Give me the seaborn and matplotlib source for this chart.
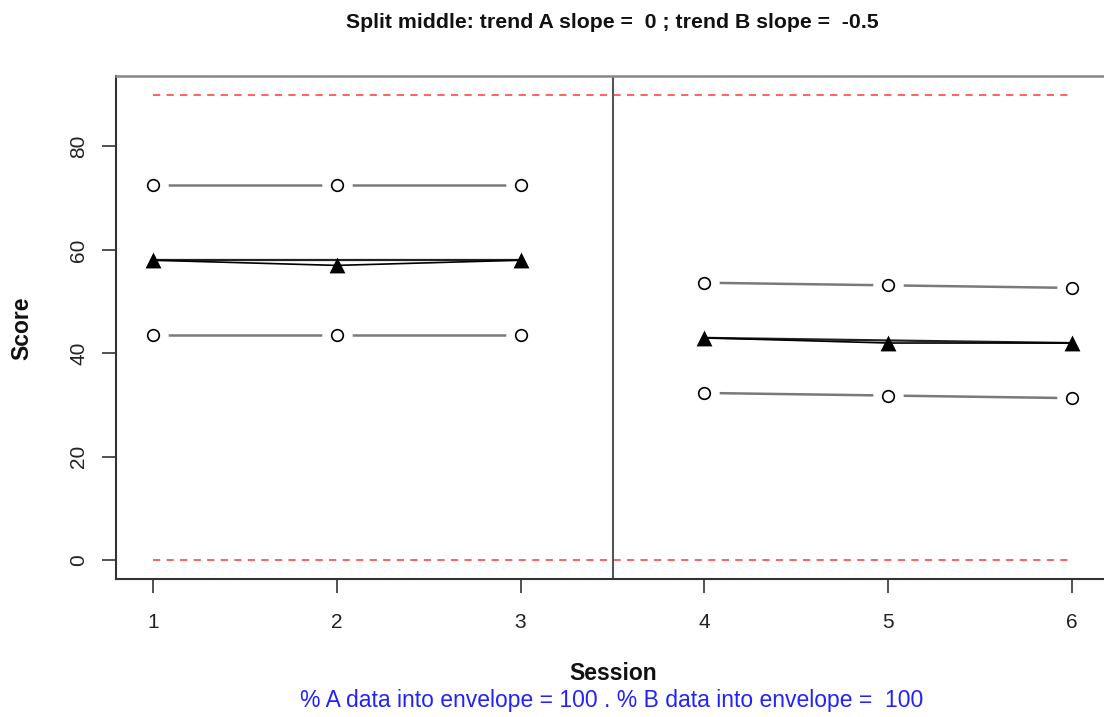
import matplotlib
matplotlib.use("Agg")
import matplotlib.pyplot as plt
import seaborn as sns
import pandas as pd

# Phase A / phase B observations
sessions_a = [1, 2, 3]
scores_a = [58, 57, 58]
sessions_b = [4, 5, 6]
scores_b = [43, 42, 42]

# Split-middle trend lines
trend_a = [58, 58, 58]
trend_b = [43, 42.5, 42]

# Stability envelopes around each trend
upper_a = [72.5, 72.5, 72.5]
lower_a = [43.5, 43.5, 43.5]
upper_b = [53.65, 53.15, 52.65]
lower_b = [32.35, 31.85, 31.35]

# Reference limits and phase change
limit_low, limit_high = 0, 90
phase_change = 3.5
session_range = [1, 6]

y_ticks = [0, 20, 40, 60, 80]
x_ticks = [1, 2, 3, 4, 5, 6]

title = "Split middle: trend A slope =  0 ; trend B slope =  -0.5"
subtitle = "% A data into envelope = 100 . % B data into envelope =  100"

sns.set_style("white")
plt.rcParams["font.family"] = ["Liberation Sans", "DejaVu Sans"]

fig = plt.figure(figsize=(11.04, 7.17), dpi=100)
ax = fig.add_axes([116 / 1104, 1 - 579 / 717, (1109 - 116) / 1104, (579 - 76) / 717])

# reference limits
for lim in (limit_low, limit_high):
    lim_df = pd.DataFrame({"x": session_range, "y": [lim, lim]})
    sns.lineplot(data=lim_df, x="x", y="y", ax=ax, color="#ff5555",
                 linestyle=(0, (4, 3.5)), linewidth=1.3, zorder=1)

ax.axvline(phase_change, color="#555555", linewidth=1.5, zorder=2)


def envelope(xs, ys):
    df = pd.DataFrame({"x": xs, "y": ys})
    sns.lineplot(data=df, x="x", y="y", ax=ax, color="#7a7a7a",
                 linewidth=1.8, zorder=3)
    # white halo so the segments stop short of each point
    sns.scatterplot(data=df, x="x", y="y", ax=ax, color="white", s=480,
                    marker="o", linewidth=0, zorder=4)
    sns.scatterplot(data=df, x="x", y="y", ax=ax, facecolor="white",
                    edgecolor="black", s=70, marker="o", linewidth=1.2,
                    zorder=5)


def series(xs, ys, trend):
    tdf = pd.DataFrame({"x": xs, "y": trend})
    sns.lineplot(data=tdf, x="x", y="y", ax=ax, color="#222222",
                 linewidth=1.6, zorder=6)
    ddf = pd.DataFrame({"x": xs, "y": ys})
    sns.lineplot(data=ddf, x="x", y="y", ax=ax, color="black",
                 linewidth=1.2, zorder=7)
    sns.scatterplot(data=ddf, x="x", y="y", ax=ax, color="black", s=130,
                    marker="^", linewidth=0, zorder=8)


envelope(sessions_a, upper_a)
envelope(sessions_a, lower_a)
envelope(sessions_b, upper_b)
envelope(sessions_b, lower_b)
series(sessions_a, scores_a, trend_a)
series(sessions_b, scores_b, trend_b)

ax.set_xlim(0.8, 6.2)
ax.set_ylim(-3.6, 93.6)
ax.set_xticks(x_ticks)
ax.set_yticks(y_ticks)
ax.set_xticklabels([str(v) for v in x_ticks])
ax.set_yticklabels([str(v) for v in y_ticks], rotation=90, va="center")
ax.tick_params(axis="both", direction="out", length=10, width=1.2,
               color="#333333", labelsize=15, labelcolor="#222222",
               bottom=True, left=True, top=False, right=False)
ax.tick_params(axis="x", pad=14.5)
ax.tick_params(axis="y", pad=10)
ax.set_xlabel("")
ax.set_ylabel("")

for side in ("top", "right"):
    ax.spines[side].set_color("#888888")
    ax.spines[side].set_linewidth(1.8)
for side in ("left", "bottom"):
    ax.spines[side].set_color("#333333")
    ax.spines[side].set_linewidth(1.5)

fig.text(612 / 1104, 1 - 22 / 717, title, ha="center", va="center",
         fontsize=15.3, fontweight="bold", color="#111111")
fig.text(613 / 1104, 1 - 673 / 717, "Session", ha="center", va="center",
         fontsize=16.5, fontweight="bold", color="#111111")
fig.text(22 / 1104, 1 - 328 / 717, "Score", ha="center", va="center",
         rotation=90, fontsize=16.5, fontweight="bold", color="#111111")
fig.text(612 / 1104, 1 - 701 / 717, subtitle, ha="center", va="center",
         fontsize=16.5, color="#2222ff")

fig.savefig("out.png", dpi=100)
